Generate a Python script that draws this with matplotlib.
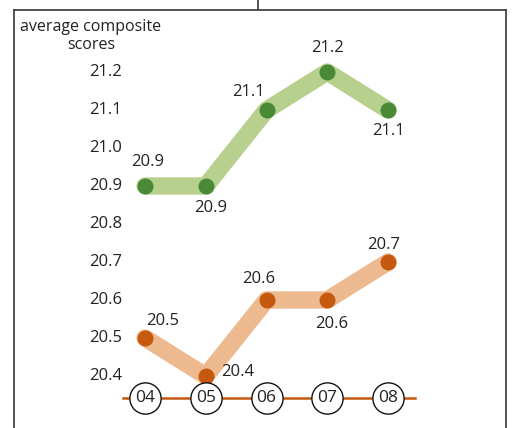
import matplotlib.pyplot as plt
import numpy as np

years = ["04", "05", "06", "07", "08"]
green_vals = [20.9, 20.9, 21.1, 21.2, 21.1]
orange_vals = [20.5, 20.4, 20.6, 20.6, 20.7]
y_ticks = [20.4, 20.5, 20.6, 20.7, 20.8, 20.9, 21.0, 21.1, 21.2]

# label offsets in pixels (style only)
green_off = [(3, 24), (5, -22), (-18, 18), (0, 24), (0, -21)]
orange_off = [(18, 17), (32, 4), (-8, 21), (4, -24), (-4, 17)]

plt.rcParams['font.family'] = ['Open Sans', 'DejaVu Sans']
txt = '#222222'

fig = plt.figure(figsize=(5.14, 4.28), dpi=100)
W, H = 514, 428
ax = fig.add_axes([14 / W, 0, (506 - 14) / W, (428 - 10) / H])

x = np.arange(len(years))
px_x = 60.75
px_y = 380.0
ax.set_xlim(-(145 - 14) / px_x, 4 + (506 - 388) / px_x)
ax.set_ylim(20.4 - (428 - 376) / px_y, 21.2 + (72 - 10) / px_y)

for s in ['left', 'top', 'right']:
    ax.spines[s].set_color('#444444')
    ax.spines[s].set_linewidth(1.3)
ax.spines['bottom'].set_visible(False)
ax.set_xticks([])
ax.set_yticks([])

# thick lines + dots
ax.plot(x, green_vals, color='#b8d08e', lw=12.5, solid_capstyle='round',
        solid_joinstyle='round', zorder=2)
ax.plot(x, green_vals, 'o', color='#4a8a36', ms=10.5, zorder=3)
ax.plot(x, orange_vals, color='#edb98f', lw=12.5, solid_capstyle='round',
        solid_joinstyle='round', zorder=2)
ax.plot(x, orange_vals, 'o', color='#c55a0e', ms=10.5, zorder=3)

for xi, v, off in zip(x, green_vals, green_off):
    ax.annotate(f"{v:.1f}", (xi, v), xytext=off, textcoords='offset pixels',
                ha='center', va='center', fontsize=12, color=txt)
for xi, v, off in zip(x, orange_vals, orange_off):
    ax.annotate(f"{v:.1f}", (xi, v), xytext=off, textcoords='offset pixels',
                ha='center', va='center', fontsize=12, color=txt)

# y tick labels
ytr = ax.get_yaxis_transform()
for t in y_ticks:
    ax.text((122 - 14) / 492, t, f"{t:.1f}", transform=ytr, ha='right',
            va='center', fontsize=12, color=txt)

# year axis: orange baseline with circled labels
base_y = 20.4 - (398 - 376) / px_y
ax.plot([-0.36, 4.44], [base_y, base_y], color='#c55a0e', lw=1.8, zorder=1,
        clip_on=False)
ax.plot(x, [base_y] * len(x), 'o', ms=22.5, mfc='white', mec='#111111',
        mew=1.0, zorder=4, clip_on=False)
for xi, yr in zip(x, years):
    ax.text(xi, base_y, yr, ha='center', va='center', fontsize=12.5,
            color=txt, zorder=5)

# title
ax.text((91 - 14) / 492, 1 - (36 - 10) / 418, "average composite\nscores",
        transform=ax.transAxes, ha='center', va='center', fontsize=11.5,
        color=txt, linespacing=1.15)

# small connector line above the box
fig.add_artist(plt.Line2D([258 / W, 258 / W], [1 - 10 / H, 1], color='#444444',
                          lw=1.3))

fig.savefig('out.png', dpi=100)
